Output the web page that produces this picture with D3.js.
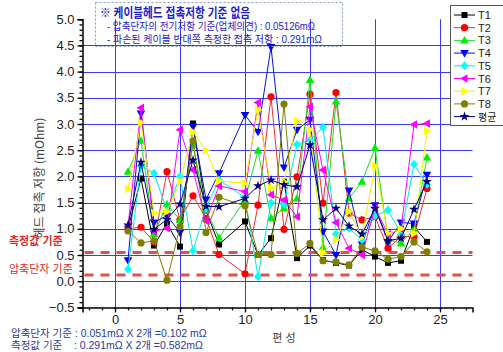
<!DOCTYPE html>
<html><head><meta charset="utf-8">
<script src="https://cdn.jsdelivr.net/npm/d3@7"></script>
<style>
body{margin:0;background:#fff}
svg{display:block}
text{font-family:"Liberation Sans",Arial,"Noto Sans CJK KR",sans-serif}
.kr{font-family:"Noto Sans CJK KR","Liberation Sans",sans-serif}
.lk{font-family:"Liberation Sans","Noto Sans CJK KR",sans-serif}
</style>
</head><body>
<svg id="c" width="503" height="352"></svg>
<script>
// ---- data ----
const xs = [1,2,3,4,5,6,7,8,10,11,12,13,14,15,16,17,18,19,20,21,22,23,24];
const T1 = [1.00,1.96,0.68,1.10,0.66,3.01,1.35,0.70,1.14,0.50,0.82,1.90,0.44,0.68,0.40,0.35,0.30,0.60,0.47,0.35,0.39,1.04,0.75];
const T2 = [1.00,1.03,0.75,2.09,1.17,1.63,1.20,0.51,0.14,1.45,3.52,0.99,1.99,3.57,1.49,3.60,1.30,1.17,1.23,0.63,0.85,0.85,1.77];
const T3 = [2.09,2.68,0.90,1.47,1.17,2.60,1.36,0.83,1.55,2.49,1.20,1.39,1.58,3.84,0.65,3.43,1.58,1.90,2.54,0.80,0.72,1.00,2.36];
const T4 = [0.40,3.20,1.12,1.25,0.93,2.95,1.56,2.06,3.17,2.85,4.47,2.17,2.89,3.08,0.95,0.50,1.73,0.70,1.45,0.75,1.12,1.10,2.03];
const T5 = [0.23,2.20,2.06,1.35,2.00,0.58,1.40,1.93,1.60,0.09,1.49,1.47,2.61,2.69,2.94,0.90,1.01,0.79,1.25,1.36,0.90,2.23,1.85];
const T6 = [1.05,3.31,0.95,1.01,2.89,2.12,1.15,1.82,1.71,3.41,1.65,1.55,1.23,3.33,2.12,1.12,0.63,0.50,1.40,0.90,0.99,2.99,3.01];
const T7 = [1.76,3.03,1.30,1.33,1.90,2.85,2.50,1.91,1.87,3.27,1.78,1.90,3.06,2.89,0.54,0.79,1.33,0.85,2.20,0.91,1.00,0.91,2.87];
const T8 = [0.96,0.73,0.77,0.02,1.04,2.68,0.93,1.60,1.44,0.51,0.51,3.38,0.53,0.72,0.39,0.37,0.31,0.65,0.58,0.42,0.47,0.75,0.56];
const AVG = [1.07,2.27,0.99,1.18,1.47,2.31,1.43,1.42,1.58,1.82,1.93,1.84,1.80,2.60,1.17,1.39,1.05,0.90,1.39,0.77,0.82,1.37,1.90];
const seriesNames = ["T1","T2","T3","T4","T5","T6","T7","T8","평균"];
const seriesValues = [T1,T2,T3,T4,T5,T6,T7,T8,AVG];
const xTicks = [0,5,10,15,20,25];
const yTicks = [-0.5,0,0.5,1.0,1.5,2.0,2.5,3.0,3.5,4.0,4.5,5.0];
const gridY = [0,0.5,1.0,1.5,2.0,2.5,3.0,3.5,4.0,4.5];
const refValues = [0.55, 0.12];
const refLabels = ["측정값 기준","압축단자 기준"];
const noteLines = ["※ 케이블헤드 접촉저항 기준 없음","- 압축단자의 전기저항 기준(업체의견) : 0.05126mΩ","- 파손된 케이블 반대쪽 측정한 접촉 저항 : 0.291mΩ"];
const footLines = ["압축단자 기준 : 0.051mΩ X 2개 =0.102 mΩ","측정값 기준    : 0.291mΩ X 2개 =0.582mΩ"];

// ---- styles ----
const colors = ["#000000","#ff0000","#00ee00","#0000ff","#00ffff","#ff00ff","#ffff00","#808000","#000080"];
const lineColors = ["#000000","#e83030","#22dd22","#1010d0","#00e8e8","#ff00ff","#f0f000","#808000","#000080"];
const shapes = ["square","circle","up","down","diamond","left","right","circle","star"];

const svg = d3.select("#c");
svg.append("rect").attr("width",503).attr("height",352).attr("fill","#fff");

const x = d3.scaleLinear().domain([-2.5,27.5]).range([82.5,472.5]);
const y = d3.scaleLinear().domain([-0.5,5]).range([307.4,19.2]);

// grid
const g = svg.append("g");
g.selectAll("line.gy").data(gridY).join("line")
  .attr("x1",x(-2.5)).attr("x2",x(27.5))
  .attr("y1",d=>Math.round(y(d))+0.5).attr("y2",d=>Math.round(y(d))+0.5)
  .attr("stroke","#3a3aff").attr("stroke-width",1);
g.selectAll("line.gx").data(xTicks).join("line")
  .attr("x1",d=>Math.round(x(d))+0.5).attr("x2",d=>Math.round(x(d))+0.5)
  .attr("y1",y(5)).attr("y2",y(-0.5))
  .attr("stroke","#3a3aff").attr("stroke-width",1);

// reference dashed lines
svg.selectAll("line.ref").data(refValues).join("line")
  .attr("x1",x(-2.5)+2).attr("x2",x(27.5))
  .attr("y1",d=>y(d)).attr("y2",d=>y(d))
  .attr("stroke","#e05050").attr("stroke-width",3).attr("stroke-dasharray","9,7");

// axes (minor ticks without labels)
const ax = svg.append("g").attr("transform",`translate(${x(-2.5)},0)`);
ax.call(d3.axisLeft(y).tickValues(d3.range(-5,51).map(d=>d/10)).tickSize(3).tickFormat(""));
ax.call(g2=>{g2.selectAll(".domain").remove(); g2.selectAll("text").remove();});
const ax2 = svg.append("g").attr("transform",`translate(${x(-2.5)},0)`);
ax2.call(d3.axisLeft(y).tickValues(yTicks).tickSize(5).tickPadding(3).tickFormat(d3.format(".1f")));
const bx = svg.append("g").attr("transform",`translate(0,${y(-0.5)})`);
bx.call(d3.axisBottom(x).tickValues(d3.range(-2,28)).tickSize(3).tickFormat(""));
bx.call(g2=>{g2.selectAll(".domain").remove(); g2.selectAll("text").remove();});
const bx2 = svg.append("g").attr("transform",`translate(0,${y(-0.5)})`);
bx2.call(d3.axisBottom(x).tickValues(xTicks).tickSize(5).tickPadding(2).tickFormat(d3.format("d")));
svg.selectAll(".tick line").attr("stroke","#000").attr("stroke-width",1.3);
svg.selectAll(".domain").attr("stroke","#000").attr("stroke-width",1.5);
svg.selectAll(".tick text").attr("font-size",13).attr("fill","#222").attr("font-family","'Liberation Sans',Arial,sans-serif");

// markers
function sym(shape){
  const p = d3.path();
  if(shape==="square"){ p.rect(-3,-3,6,6); }
  else if(shape==="circle"){ p.arc(0,0,3.6,0,2*Math.PI); }
  else if(shape==="up"){ p.moveTo(0,-4.5); p.lineTo(4.3,3); p.lineTo(-4.3,3); p.closePath(); }
  else if(shape==="down"){ p.moveTo(0,4.5); p.lineTo(4.3,-3); p.lineTo(-4.3,-3); p.closePath(); }
  else if(shape==="left"){ p.moveTo(-4.5,0); p.lineTo(3,-4.3); p.lineTo(3,4.3); p.closePath(); }
  else if(shape==="right"){ p.moveTo(4.5,0); p.lineTo(-3,-4.3); p.lineTo(-3,4.3); p.closePath(); }
  else if(shape==="diamond"){ p.moveTo(0,-4.5); p.lineTo(4,0); p.lineTo(0,4.5); p.lineTo(-4,0); p.closePath(); }
  else if(shape==="star"){ return d3.symbol(d3.symbolStar, 30)(); }
  return p.toString();
}

const line = d3.line().x(d=>x(d[0])).y(d=>y(d[1]));
seriesValues.forEach((vals,i)=>{
  const pts = xs.map((xv,j)=>[xv,vals[j]]);
  const sg = svg.append("g");
  sg.append("path").datum(pts).attr("d",line).attr("fill","none")
    .attr("stroke",lineColors[i]).attr("stroke-width",1);
  sg.selectAll("path.m").data(pts).join("path").attr("class","m")
    .attr("transform",d=>`translate(${x(d[0])},${y(d[1])})`)
    .attr("d",sym(shapes[i])).attr("fill",colors[i]);
});

// axis titles
svg.append("text").attr("class","kr").attr("transform","translate(44,178) rotate(-90)")
  .attr("text-anchor","middle").attr("font-size",12).attr("fill","#444").text("헤드 접촉 저항 (mOhm)");
svg.append("text").attr("class","lk").attr("x",284).attr("y",342)
  .attr("text-anchor","middle").attr("font-size",11).attr("fill","#444").text("편 성");

// reference labels
svg.selectAll("text.rl").data(refLabels).join("text").attr("class","lk")
  .attr("x",9).attr("y",(d,i)=>i===0?245:273).attr("font-size",11).attr("fill","#e02828")
  .attr("font-weight",(d,i)=>i===0?"bold":"normal").text(d=>d);

// note box
svg.append("rect").attr("x",95.5).attr("y",2.5).attr("width",247).attr("height",44)
  .attr("fill","none").attr("stroke","#8a9ac0").attr("stroke-dasharray","2,2");
const noteW = [150,208,215];
svg.selectAll("text.note").data(noteLines).join("text").attr("class","lk")
  .attr("x",(d,i)=>i===0?100:107).attr("y",(d,i)=>[17,30,43][i])
  .attr("font-size",(d,i)=>i===0?13:10.5).attr("font-weight",(d,i)=>i===0?"bold":"normal")
  .attr("textLength",(d,i)=>noteW[i]).attr("lengthAdjust","spacingAndGlyphs")
  .attr("fill","#2222c8").text(d=>d);

// footnote
svg.selectAll("text.foot").data(footLines).join("text").attr("class","lk")
  .attr("x",11).attr("y",(d,i)=>[337,349][i]).attr("font-size",10.5)
  .attr("fill","#2a3a9a").attr("xml:space","preserve").style("white-space","pre").text(d=>d);

// legend
const lg = svg.append("g");
lg.append("rect").attr("x",450.5).attr("y",5.5).attr("width",60).attr("height",120)
  .attr("fill","#fff").attr("stroke","#555");
seriesNames.forEach((n,i)=>{
  const yy = 15 + i*12.7;
  lg.append("line").attr("x1",454).attr("x2",475).attr("y1",yy).attr("y2",yy)
    .attr("stroke",lineColors[i]).attr("stroke-width",1);
  lg.append("path").attr("transform",`translate(464.5,${yy})`).attr("d",sym(shapes[i])).attr("fill",colors[i]);
  lg.append("text").attr("class",i===8?"kr":null).attr("x",478).attr("y",yy+4)
    .attr("font-size",i===8?10:11).attr("fill","#222").text(n);
});
</script>
</body></html>
